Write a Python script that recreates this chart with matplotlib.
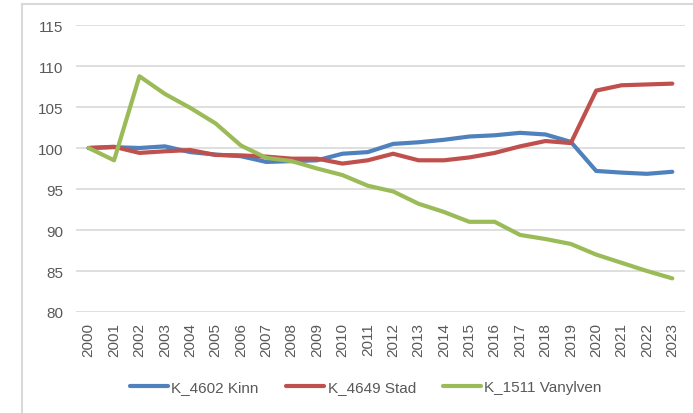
import matplotlib.pyplot as plt
from matplotlib.lines import Line2D

plt.rcParams['font.family'] = ['Liberation Sans', 'DejaVu Sans']

# Data (index, 2000 = 100)
years = [str(y) for y in range(2000, 2024)]
kinn = [100.0, 100.1, 100.0, 100.2, 99.5, 99.2, 99.0, 98.3, 98.4, 98.5, 99.3, 99.5,
        100.5, 100.7, 101.0, 101.4, 101.55, 101.85, 101.65, 100.75, 97.2, 97.0, 96.85, 97.1]
stad = [100.0, 100.15, 99.4, 99.6, 99.75, 99.15, 99.1, 98.95, 98.7, 98.7, 98.1, 98.5,
        99.3, 98.5, 98.5, 98.85, 99.4, 100.2, 100.85, 100.6, 107.0, 107.65, 107.75, 107.85]
vanylven = [100.0, 98.5, 108.75, 106.6, 104.9, 103.0, 100.3, 98.8, 98.4, 97.5, 96.7, 95.4,
            94.7, 93.2, 92.2, 91.0, 91.0, 89.4, 88.9, 88.3, 87.0, 86.0, 85.0, 84.1]
series_names = ["K_4602 Kinn", "K_4649 Stad", "K_1511 Vanylven"]
colors = ["#4F81BD", "#C0504D", "#9BBB59"]
yticks = [80, 85, 90, 95, 100, 105, 110, 115]

text_col = "#595959"
grid_col = "#D9D9D9"

fig = plt.figure(figsize=(6.93, 4.14), dpi=100)
ax = fig.add_axes([76 / 693, 1 - 313 / 414, (685 - 76) / 693, (313 - 26) / 414])

x = list(range(len(years)))
for vals, name, c in zip([kinn, stad, vanylven], series_names, colors):
    ax.plot(x, vals, color=c, linewidth=3, label=name, solid_capstyle='round',
            solid_joinstyle='round')

ax.set_xlim(-0.5, len(years) - 0.5)
ax.set_ylim(80, 115)
ax.set_yticks(yticks)
ax.set_xticks(x)
ax.set_xticklabels(years, rotation=90)
ax.tick_params(axis='both', length=0, labelsize=11, labelcolor=text_col)
ax.tick_params(axis='x', pad=7)
ax.tick_params(axis='y', pad=9)
ax.grid(axis='y', color=grid_col, linewidth=1.2)
ax.set_axisbelow(True)
for s in ax.spines.values():
    s.set_visible(False)

# outer chart frame (only top and left visible in the crop)
fig.add_artist(Line2D([22 / 693, 22 / 693], [0, 1 - 4.5 / 414], color=grid_col, linewidth=1.5))
fig.add_artist(Line2D([22 / 693, 1], [1 - 4.5 / 414, 1 - 4.5 / 414], color=grid_col, linewidth=1.5))

leg = fig.legend(loc='center', bbox_to_anchor=(366 / 693, 1 - 388 / 414), ncol=3,
                 frameon=False, fontsize=11, handlelength=2.5, handletextpad=0.2,
                 columnspacing=1.8)
for t in leg.get_texts():
    t.set_color(text_col)

fig.savefig("out.png", dpi=100)
